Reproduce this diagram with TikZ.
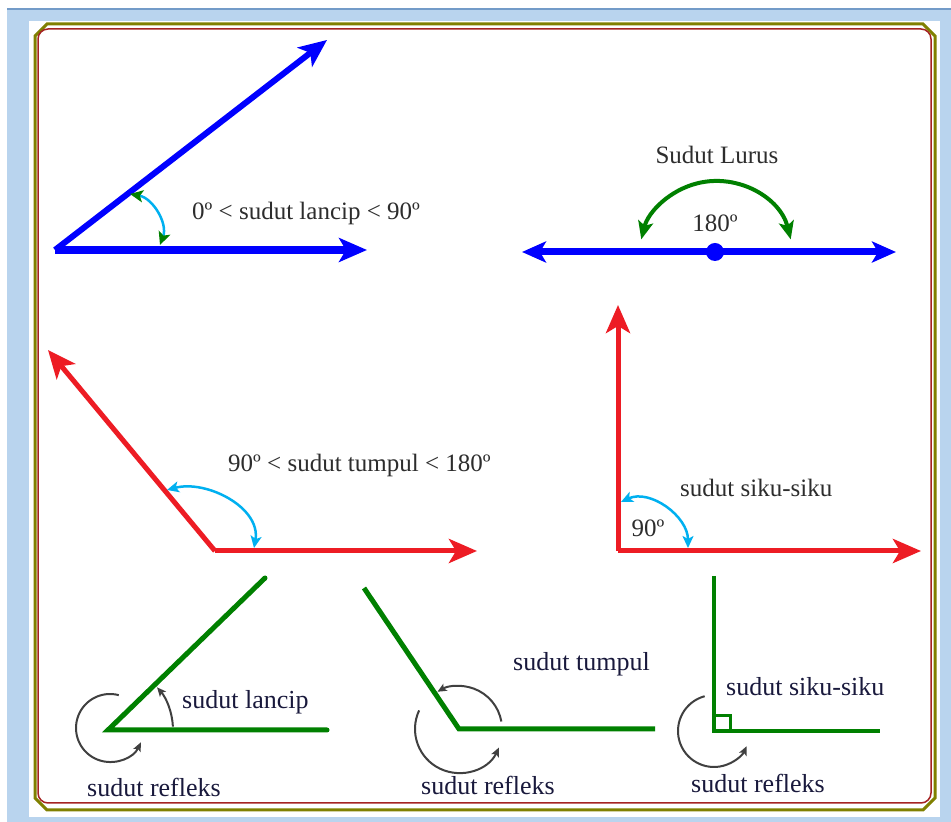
\documentclass[tikz,border=0pt]{standalone}
\usepackage{fontspec}
\setmainfont{Liberation Serif}
\usetikzlibrary{arrows.meta}
\definecolor{rayblue}{RGB}{0,0,255}
\definecolor{rayred}{RGB}{237,28,36}
\definecolor{arccyan}{RGB}{0,176,240}
\definecolor{raygreen}{RGB}{0,128,0}
\definecolor{arcgray}{RGB}{64,64,64}
\definecolor{frameolive}{RGB}{128,128,0}
\definecolor{framered}{RGB}{165,35,35}
\definecolor{bgblue}{RGB}{185,212,238}
\definecolor{bgedge}{RGB}{115,155,200}
\definecolor{textdark}{RGB}{45,45,45}
\definecolor{textnavy}{RGB}{25,25,60}
\tikzstyle{toplabel}=[inner sep=0pt, text=textdark, font=\fontsize{25}{30}\selectfont]
\tikzstyle{botlabel}=[inner sep=0pt, text=textnavy, font=\fontsize{26}{30}\selectfont]
\tikzstyle{bigtip}=[-{Stealth[length=28pt, width=24pt, inset=7pt]}]
\tikzstyle{bluehead}=[rayblue, line width=7pt, {Stealth[length=24pt, width=21pt, inset=6pt]}-{Stealth[length=24pt, width=21pt, inset=6pt]}]
\tikzstyle{cyanarc}=[arccyan, line width=2.5pt, {Stealth[length=12pt, width=11pt, inset=3pt]}-{Stealth[length=12pt, width=11pt, inset=3pt]}]
\tikzstyle{greenray}=[raygreen, line width=5pt]
\tikzstyle{grayarc}=[arcgray, line width=2pt, -{Stealth[length=9pt, width=8pt, inset=2pt]}]

\begin{document}
\begin{tikzpicture}[x=1pt, y=1pt]
        \useasboundingbox (0,0) rectangle (951,822);
        \fill[bgblue] (7,0) rectangle (951,813);
        \draw[bgedge, line width=2.5pt] (7,813) -- (951,813);
        \fill[white] (29,5) rectangle (940,801);
        \draw[frameolive, line width=3pt] (47,12) -- (923,12) -- (935,24) -- (935,786) -- (923,798) -- (47,798) -- (35,786) -- (35,24) -- cycle;
        \draw[framered, line width=1.5pt, rounded corners=10pt] (38,19) rectangle (931,793);

        \coordinate (A) at (55, 572);
        \coordinate (Ah) at (367, 572);
        \coordinate (Ad) at (327, 782);
        \draw[rayblue, line width=8pt, bigtip] (A) -- (Ah);
        \draw[rayblue, line width=6pt, bigtip] (A) -- (Ad);
        \draw[arccyan, line width=2.5pt, {Stealth[length=13pt, width=12pt, inset=3pt, color=raygreen]}-{Stealth[length=13pt, width=12pt, inset=3pt, color=raygreen]}] (130, 628) to[out=-10, in=70] (160, 577);
        \node[toplabel, anchor=west] (lancip) at (192, 609) {0º < sudut lancip < 90º};

        \coordinate (Sl) at (522, 570);
        \coordinate (Sr) at (896, 570);
        \node[circle, fill=rayblue, minimum size=18pt, inner sep=0pt] (O) at (715, 570) {};
        \draw[bluehead] (Sl) -- (Sr);
        \draw[raygreen, line width=4pt, {Stealth[length=18pt, width=15pt, inset=4pt]}-{Stealth[length=18pt, width=15pt, inset=4pt]}] (716, 564) ++(14:77) arc[start angle=14, end angle=166, radius=77];
        \node[toplabel] (lurus) at (717, 667) {Sudut Lurus};
        \node[toplabel] (deg180) at (715, 599) {180º};

        \coordinate (B) at (215, 271);
        \coordinate (Bh) at (477, 271);
        \coordinate (Bd) at (48, 472);
        \draw[rayred, line width=5pt, bigtip] (B) -- (Bh);
        \draw[rayred, line width=5pt, bigtip] (B) -- (Bd);
        \draw[cyanarc] (167, 332) to[out=15, in=80] (254, 274);
        \node[toplabel, anchor=west] (tumpul) at (228, 357) {90º < sudut tumpul < 180º};

        \coordinate (C) at (618, 271);
        \coordinate (Cv) at (618, 517);
        \coordinate (Ch) at (921, 271);
        \draw[rayred, line width=5pt, bigtip] (C) -- (Cv);
        \draw[rayred, line width=5pt, bigtip] (C) -- (Ch);
        \draw[cyanarc] (621, 320) to[out=25, in=90] (688, 274);
        \node[toplabel, anchor=west] (siku) at (680, 334) {sudut siku-siku};
        \node[toplabel] (deg90) at (648, 294) {90º};

        \coordinate (D) at (108, 92);
        \coordinate (Dh) at (327, 92);
        \coordinate (Dd) at (265, 244);
        \draw[greenray, line cap=round] (Dd) -- (D) -- (Dh);
        \draw[grayarc] (D) ++(3:65) arc[start angle=3, end angle=41, radius=65];
        \draw[grayarc] (110, 94) ++(75:34) arc[start angle=75, end angle=335, radius=34];
        \node[botlabel, anchor=west] (lancipb) at (182, 120) {sudut lancip};
        \node[botlabel, anchor=west] (refleksa) at (87, 35) {sudut refleks};

        \coordinate (E) at (459, 93);
        \coordinate (Eh) at (655, 93);
        \coordinate (Ed) at (364, 234);
        \draw[greenray] (Ed) -- (E) -- (Eh);
        \draw[grayarc] (E) ++(10:43) arc[start angle=10, end angle=120, radius=43];
        \draw[grayarc] (E) ++(155:44) arc[start angle=155, end angle=335, radius=44];
        \node[botlabel, anchor=west] (tumpulb) at (513, 158) {sudut tumpul};
        \node[botlabel, anchor=west] (refleksb) at (421, 37) {sudut refleks};

        \coordinate (F) at (714, 91);
        \coordinate (Fv) at (714, 246);
        \coordinate (Fh) at (880, 91);
        \draw[greenray, line width=4pt] (Fv) -- (F) -- (Fh);
        \draw[raygreen, line width=3pt] (F) rectangle +(16, 15);
        \draw[grayarc] (F) ++(105:36) arc[start angle=105, end angle=335, radius=36];
        \node[botlabel, anchor=west] (sikub) at (726, 135) {sudut siku-siku};
        \node[botlabel, anchor=west] (refleksc) at (691, 39) {sudut refleks};
    \end{tikzpicture}
\end{document}
